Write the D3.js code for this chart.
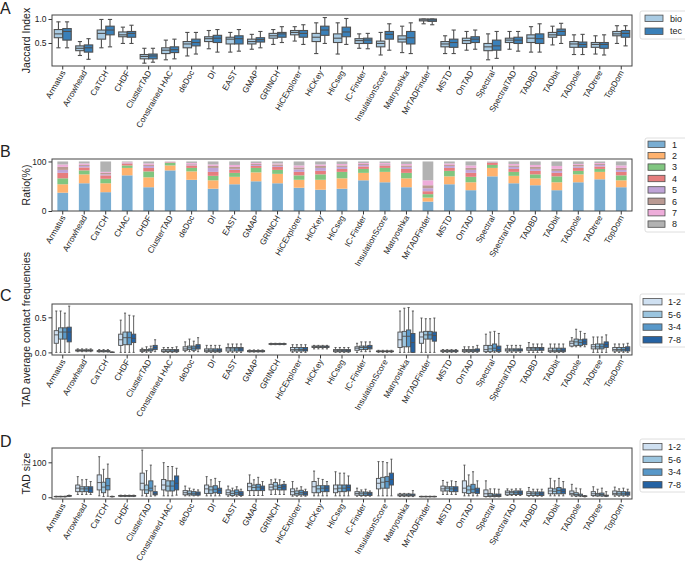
<!DOCTYPE html>
<html>
<head>
<meta charset="utf-8">
<script src="https://cdn.jsdelivr.net/npm/d3@7"></script>
<style>
  body { margin: 0; background: #fff; }
  svg text { font-family: "Liberation Sans", Arial, sans-serif; fill: #222; }
</style>
</head>
<body>
<div id="chart"></div>
<script>
var svgWidth = 685;
var svgHeight = 562;

// method names
var methodsA = ["Armatus","Arrowhead","CaTCH","CHDF","ClusterTAD","Constrained HAC","deDoc","DI","EAST","GMAP","GRINCH","HiCExplorer","HiCKey","HiCseg","IC-Finder","InsulationScore","Matryoshka","MrTADFinder","MSTD","OnTAD","Spectral","SpectralTAD","TADBD","TADbit","TADpole","TADtree","TopDom"];
var methodsB = ["Armatus","Arrowhead","CaTCH","CHAC","CHDF","ClusterTAD","deDoc","DI","EAST","GMAP","GRINCH","HiCExplorer","HiCKey","HiCseg","IC-Finder","InsulationScore","Matryoshka","MrTADFinder","MSTD","OnTAD","Spectral","SpectralTAD","TADBD","TADbit","TADpole","TADtree","TopDom"];

// A: Jaccard index, [low whisker, q1, median, q3, high whisker]
var jaccardBio = [[0.40,0.61,0.69,0.78,0.94],[0.24,0.34,0.39,0.44,0.53],[0.40,0.58,0.70,0.77,0.99],[0.49,0.63,0.67,0.73,0.83],[0.08,0.17,0.22,0.26,0.39],[0.15,0.28,0.35,0.40,0.56],[0.23,0.40,0.48,0.53,0.72],[0.38,0.53,0.59,0.63,0.76],[0.31,0.48,0.58,0.62,0.72],[0.37,0.48,0.53,0.58,0.68],[0.47,0.60,0.65,0.70,0.78],[0.54,0.67,0.72,0.76,0.84],[0.28,0.53,0.62,0.70,0.92],[0.27,0.51,0.60,0.69,0.92],[0.39,0.49,0.55,0.59,0.69],[0.25,0.42,0.49,0.54,0.72],[0.30,0.52,0.58,0.65,0.85],[0.90,0.96,0.98,1.00,1.00],[0.28,0.42,0.48,0.53,0.65],[0.35,0.49,0.55,0.60,0.74],[0.15,0.34,0.42,0.49,0.69],[0.37,0.51,0.56,0.60,0.74],[0.31,0.51,0.60,0.67,0.84],[0.46,0.62,0.67,0.72,0.85],[0.26,0.41,0.48,0.53,0.67],[0.27,0.41,0.47,0.51,0.65],[0.49,0.65,0.69,0.74,0.86]];
var jaccardTec = [[0.40,0.56,0.74,0.80,0.94],[0.16,0.31,0.40,0.46,0.59],[0.42,0.67,0.77,0.85,0.99],[0.49,0.62,0.70,0.74,0.87],[0.10,0.17,0.23,0.27,0.39],[0.17,0.30,0.36,0.42,0.58],[0.27,0.44,0.51,0.58,0.72],[0.31,0.51,0.60,0.66,0.78],[0.33,0.48,0.59,0.65,0.78],[0.40,0.52,0.57,0.61,0.74],[0.51,0.62,0.69,0.72,0.84],[0.47,0.62,0.70,0.76,0.88],[0.49,0.66,0.77,0.85,1.03],[0.47,0.63,0.73,0.83,1.01],[0.38,0.49,0.56,0.60,0.70],[0.35,0.58,0.68,0.74,0.90],[0.28,0.48,0.61,0.74,0.92],[0.88,0.95,0.98,1.00,1.00],[0.28,0.41,0.51,0.58,0.77],[0.37,0.51,0.58,0.63,0.77],[0.18,0.35,0.44,0.56,0.74],[0.33,0.49,0.56,0.62,0.74],[0.31,0.49,0.59,0.69,0.90],[0.49,0.66,0.74,0.79,0.91],[0.26,0.41,0.47,0.52,0.68],[0.25,0.39,0.47,0.51,0.67],[0.44,0.62,0.70,0.76,0.86]];

// B: ratio (%) per class 1..8
var ratio1 = [37,56,38,72,48,82,63,45,54,60,56,47,43,45,62,58,48,19,54,42,70,56,52,42,58,64,48];
var ratio2 = [17,18,18,15,20,10,17,17,15,18,19,16,20,21,15,21,18,8,16,16,17,15,14,16,16,15,14];
var ratio3 = [12,8,9,5,12,5,7,9,8,9,8,9,11,13,8,8,11,7,11,11,6,8,8,12,7,6,10];
var ratio4 = [11,6,7,4,7,1,5,8,6,4,6,7,7,6,5,5,8,6,6,8,4,6,7,7,6,5,7];
var ratio5 = [6,3,2,1,4,0.5,2,8,2,2,2,5,6,4,3,2,4,6,4,6,1,4,4,4,3,3,4];
var ratio6 = [6,2,3,1,2,0.5,1,4,4,2,3,4,4,3,2,1,3,6,2,4,1,3,4,4,3,2,4];
var ratio7 = [5,3,2,1,3,0.5,2,3,4,2,2,4,3,3,2,2,3,10,3,5,0.5,3,4,6,2,2,5];
var ratio8 = [6,4,21,1,4,0.5,3,6,7,3,4,8,6,5,3,3,5,38,4,8,0.5,5,7,9,5,3,8];
var ratioNames = ["1","2","3","4","5","6","7","8"];

// C: TAD average contact frequencies
var contact12 = [[0,0.13,0.25,0.31,0.59],[0.01,0.02,0.03,0.035,0.05],[0.005,0.01,0.02,0.025,0.04],[0,0.10,0.18,0.26,0.46],[0,0.015,0.025,0.04,0.06],[0,0.01,0.02,0.04,0.07],[0.01,0.03,0.05,0.08,0.15],[0,0.01,0.03,0.05,0.10],[0,0.02,0.05,0.07,0.12],[0.005,0.01,0.02,0.025,0.035],[0.11,0.115,0.12,0.125,0.13],[0,0.02,0.04,0.07,0.11],[0.05,0.07,0.08,0.09,0.10],[0,0.01,0.025,0.04,0.07],[0,0.03,0.06,0.08,0.13],[0,0.01,0.015,0.02,0.03],[0,0.07,0.18,0.29,0.59],[0,0.13,0.22,0.29,0.49],[0,0.01,0.02,0.03,0.04],[0,0.01,0.025,0.04,0.08],[0,0.01,0.04,0.10,0.26],[0,0.02,0.035,0.05,0.10],[0,0.03,0.05,0.07,0.14],[0,0.01,0.03,0.06,0.12],[0.08,0.09,0.13,0.16,0.21],[0,0.05,0.08,0.11,0.22],[0,0.02,0.04,0.07,0.12]];
var contact56 = [[0,0.19,0.29,0.35,0.59],[0.01,0.02,0.03,0.035,0.05],[0.005,0.01,0.02,0.025,0.04],[0,0.11,0.21,0.29,0.56],[0,0.02,0.03,0.04,0.08],[0,0.01,0.02,0.04,0.07],[0.01,0.04,0.065,0.09,0.19],[0,0.01,0.03,0.05,0.10],[0,0.02,0.05,0.07,0.12],[0.005,0.01,0.02,0.025,0.035],[0.11,0.115,0.12,0.125,0.13],[0,0.02,0.04,0.07,0.11],[0.05,0.07,0.08,0.09,0.10],[0,0.01,0.025,0.04,0.07],[0.01,0.04,0.07,0.09,0.15],[0,0.01,0.015,0.02,0.03],[0,0.08,0.23,0.30,0.63],[0,0.19,0.25,0.30,0.48],[0,0.01,0.02,0.03,0.04],[0,0.01,0.025,0.04,0.08],[0,0.01,0.05,0.10,0.29],[0,0.02,0.035,0.05,0.10],[0,0.03,0.05,0.07,0.12],[0,0.01,0.03,0.06,0.12],[0.08,0.10,0.15,0.19,0.33],[0,0.05,0.08,0.12,0.22],[0,0.02,0.04,0.07,0.12]];
var contact34 = [[0,0.19,0.29,0.35,0.56],[0.01,0.02,0.03,0.035,0.05],[0.005,0.01,0.02,0.025,0.04],[0,0.11,0.21,0.29,0.53],[0,0.02,0.035,0.05,0.09],[0,0.01,0.02,0.04,0.07],[0.01,0.03,0.06,0.09,0.16],[0,0.01,0.03,0.05,0.10],[0,0.02,0.05,0.07,0.12],[0.005,0.01,0.02,0.025,0.035],[0.11,0.115,0.12,0.125,0.13],[0,0.02,0.04,0.07,0.11],[0.05,0.07,0.08,0.09,0.10],[0,0.01,0.025,0.04,0.07],[0.01,0.04,0.07,0.09,0.15],[0,0.01,0.015,0.02,0.03],[0,0.08,0.23,0.32,0.64],[0,0.19,0.25,0.30,0.48],[0,0.01,0.02,0.03,0.04],[0,0.01,0.025,0.04,0.08],[0,0.02,0.06,0.12,0.30],[0,0.02,0.035,0.05,0.10],[0,0.03,0.05,0.07,0.12],[0,0.01,0.03,0.06,0.12],[0.08,0.10,0.14,0.18,0.30],[0,0.05,0.08,0.12,0.22],[0,0.02,0.04,0.07,0.12]];
var contact78 = [[0,0.15,0.29,0.36,0.66],[0.01,0.02,0.03,0.035,0.05],[0,0,0.002,0.004,0.005],[0,0.14,0.20,0.26,0.52],[0.01,0.04,0.07,0.10,0.18],[0,0.01,0.025,0.04,0.08],[0.01,0.05,0.08,0.11,0.21],[0,0.01,0.03,0.05,0.10],[0,0.02,0.05,0.07,0.12],[0.005,0.01,0.02,0.025,0.035],[0.11,0.115,0.12,0.125,0.13],[0,0.02,0.04,0.07,0.11],[0.05,0.07,0.08,0.09,0.10],[0,0.01,0.025,0.04,0.07],[0.01,0.05,0.07,0.10,0.15],[0,0.01,0.015,0.02,0.03],[0,0.0,0.14,0.27,0.59],[0,0.16,0.24,0.29,0.49],[0,0.01,0.02,0.03,0.04],[0,0.015,0.03,0.05,0.10],[0,0.01,0.04,0.09,0.27],[0,0.02,0.035,0.05,0.10],[0,0.03,0.05,0.07,0.12],[0,0.01,0.03,0.06,0.12],[0.08,0.11,0.15,0.19,0.27],[0,0.07,0.11,0.15,0.25],[0,0.02,0.05,0.08,0.13]];

// D: TAD size
var size12 = [[1,1.5,2,2.5,3],[8,16,26,35,59],[4,21,42,64,116],[2,3,4,5,6],[4,21,40,69,135],[4,21,35,51,99],[4,7,13,19,32],[4,11,24,35,59],[3,7,13,21,32],[5,19,30,40,64],[8,21,29,37,50],[3,7,16,24,45],[4,13,30,45,75],[4,13,24,35,73],[3,6,11,16,26],[4,24,40,54,102],[2,4,6,9,11],[1,1.5,2,2.5,3],[8,18,24,32,48],[4,13,26,47,92],[1,2,10,21,47],[5,7,13,18,24],[3,5,11,16,28],[4,10,18,26,54],[3,7,11,18,37],[3,5,10,16,30],[3,7,11,18,29]];
var size56 = [[1,1.5,2,2.5,3],[8,16,24,30,50],[2,13,29,43,80],[2,3,4,5,6],[3,11,21,35,76],[4,18,32,47,88],[4,7,11,18,26],[4,11,21,30,50],[3,5,11,18,26],[5,19,28,35,50],[8,23,32,42,52],[3,6,11,18,26],[4,13,24,33,54],[4,16,26,35,69],[3,5,10,15,21],[4,26,43,57,102],[2,4,6,9,11],[1,1.5,2,2.5,3],[8,18,26,30,43],[4,11,21,32,64],[1,2,6,11,24],[5,8,13,17,23],[3,5,10,15,23],[4,10,17,24,47],[2,4,8,13,26],[3,4,7,11,23],[3,6,10,16,24]];
var size34 = [[1,1.5,2,2.5,3],[8,16,24,30,51],[3,21,33,54,95],[2,3,4,5,6],[3,18,26,47,92],[4,18,32,47,88],[4,6,10,16,23],[4,13,23,33,54],[3,7,13,21,30],[5,19,29,37,57],[8,21,28,35,50],[3,7,13,20,30],[4,16,26,33,51],[4,16,26,35,69],[3,5,10,15,23],[4,26,45,59,99],[2,4,6,9,11],[1,1.5,2,2.5,3],[8,16,24,30,47],[4,13,23,37,73],[1,2,5,9,24],[5,8,13,18,24],[3,5,10,15,23],[4,10,19,28,54],[2,4,6,9,24],[3,4,8,12,26],[3,6,10,16,26]];
var size78 = [[2,3,4,5,6],[8,14,24,30,45],[1,1.5,2,2.5,3],[2,3,4,5,6],[4,7,10,16,32],[6,21,40,61,83],[4,6,10,15,21],[4,11,19,26,45],[3,5,10,16,23],[5,19,26,32,45],[8,21,30,37,45],[3,6,11,16,23],[4,16,26,33,45],[4,18,28,35,61],[3,5,10,14,18],[4,35,51,69,109],[2,4,6,9,19],[1,1.5,2,2.5,3],[8,16,24,30,45],[4,11,18,26,47],[1,2,5,9,23],[5,8,13,18,24],[3,5,10,15,23],[4,10,17,24,45],[1,2,3,4,5],[2,3,5,6,16],[3,6,10,15,23]];

var hueNames = ["1-2","5-6","3-4","7-8"];

var left = 52, right = 632;
var lineGray = "#4f4f4f";
var blues2 = ["#a9cbe3", "#3a80b9"];
var blues4 = ["#cfe0f1", "#9bc5df", "#5898c9", "#2462a3"];
var tab = ["#79add2","#ffb26e","#80c680","#e67d7e","#bfa4d7","#ba9a93","#eeadda","#b2b2b2"];

var svg = d3.select("#chart").append("svg")
    .attr("width", svgWidth)
    .attr("height", svgHeight);

function xBand(names) {
    return d3.scaleBand().domain(names).range([left, right]).padding(0);
}

function frame(top, bottom, yScale, ticks, fmt, title, letter, letterY, xScale) {
    var g = svg.append("g");
    // y axis
    var yAxis = d3.axisLeft(yScale).tickValues(ticks).tickFormat(fmt).tickSize(3.5).tickPadding(2);
    var ya = g.append("g").attr("transform", `translate(${left},0)`).call(yAxis);
    ya.select(".domain").remove();
    ya.selectAll("line").attr("stroke", "#333");
    ya.selectAll("text").style("font-size", "8.5px").attr("fill", "#222");
    // x axis
    var xAxis = d3.axisBottom(xScale).tickSize(3.5).tickFormat("");
    var xa = g.append("g").attr("transform", `translate(0,${bottom})`).call(xAxis);
    xa.select(".domain").remove();
    xa.selectAll("line").attr("stroke", "#333");
    g.selectAll(".xlab")
        .data(xScale.domain())
        .enter()
        .append("text")
        .attr("text-anchor", "end")
        .attr("transform", d => `translate(${xScale(d) + xScale.bandwidth() / 2 + 3},${bottom + 6.5}) rotate(-60)`)
        .style("font-size", "8.3px")
        .text(d => d);
    // title + letter
    svg.append("text")
        .attr("transform", `translate(30,${(top + bottom) / 2}) rotate(-90)`)
        .attr("text-anchor", "middle")
        .style("font-size", "10.5px")
        .text(title);
    svg.append("text")
        .attr("x", 0).attr("y", letterY)
        .style("font-size", "16px")
        .text(letter);
    return g;
}

function spines(top, bottom) {
    svg.append("rect")
        .attr("x", left).attr("y", top)
        .attr("width", right - left).attr("height", bottom - top)
        .attr("fill", "none").attr("stroke", "#444").attr("stroke-width", 1);
}

function boxes(series, colors, xScale, yScale, lw) {
    var n = series.length;
    var bw = xScale.bandwidth();
    var slot = 0.8 * bw / n;
    var w = slot * 0.98;
    var g = svg.append("g");
    series.forEach(function(data, i) {
        data.forEach(function(d, j) {
            var cx = xScale(xScale.domain()[j]) + bw / 2 + (i - (n - 1) / 2) * slot;
            var bg = g.append("g").attr("stroke", lineGray).attr("stroke-width", lw).attr("fill", "none");
            // whiskers
            bg.append("line").attr("x1", cx).attr("x2", cx).attr("y1", yScale(d[0])).attr("y2", yScale(d[1]));
            bg.append("line").attr("x1", cx).attr("x2", cx).attr("y1", yScale(d[3])).attr("y2", yScale(d[4]));
            bg.append("line").attr("x1", cx - w / 4).attr("x2", cx + w / 4).attr("y1", yScale(d[0])).attr("y2", yScale(d[0]));
            bg.append("line").attr("x1", cx - w / 4).attr("x2", cx + w / 4).attr("y1", yScale(d[4])).attr("y2", yScale(d[4]));
            bg.append("rect")
                .attr("x", cx - w / 2).attr("width", w)
                .attr("y", yScale(d[3])).attr("height", Math.max(0.01, yScale(d[1]) - yScale(d[3])))
                .attr("fill", colors[i]);
            bg.append("line").attr("x1", cx - w / 2).attr("x2", cx + w / 2).attr("y1", yScale(d[2])).attr("y2", yScale(d[2]));
        });
    });
}

function legend(x, y, w, h, names, colors, rowY, rowStep, patchX, patchW, textX) {
    var g = svg.append("g");
    g.append("rect").attr("x", x).attr("y", y).attr("width", w).attr("height", h)
        .attr("rx", 2).attr("fill", "#fff").attr("stroke", "#d6d6d6").attr("stroke-width", 0.8);
    names.forEach(function(name, i) {
        var cy = rowY + i * rowStep;
        g.append("rect").attr("x", patchX).attr("y", cy - 3.2).attr("width", patchW).attr("height", 6.4)
            .attr("fill", colors[i]).attr("stroke", lineGray).attr("stroke-width", 0.8);
        g.append("text").attr("x", textX).attr("y", cy + 3.2).style("font-size", "9px").text(name);
    });
}

// ---------- Panel A ----------
var xA = xBand(methodsA);
var yA = d3.scaleLinear().domain([0.021, 1.083]).range([66, 15]);
frame(15, 66, yA, [0.5, 1.0], d3.format(".1f"), "Jaccard Index", "A", 14, xA);
boxes([jaccardBio, jaccardTec], blues2, xA, yA, 1.1);
spines(15, 66);
legend(640, 11, 52, 28, ["bio", "tec"], blues2, 18.3, 12.9, 645, 18, 670);

// ---------- Panel B ----------
var xB = xBand(methodsB);
var yB = d3.scaleLinear().domain([0, 105]).range([211, 159]);
frame(159, 211, yB, [0, 100], d3.format("d"), "Ratio(%)", "B", 157, xB);
var ratios = [ratio1, ratio2, ratio3, ratio4, ratio5, ratio6, ratio7, ratio8];
var stackRows = methodsB.map(function(m, j) {
    var row = { method: m };
    ratioNames.forEach(function(k, i) { row[k] = ratios[i][j]; });
    return row;
});
var stacked = d3.stack().keys(ratioNames)(stackRows);
svg.append("g").selectAll("g")
    .data(stacked)
    .enter()
    .append("g")
    .attr("fill", (d, i) => tab[i])
    .selectAll("rect")
    .data(d => d)
    .enter()
    .append("rect")
    .attr("x", d => xB(d.data.method) + xB.bandwidth() * 0.25)
    .attr("width", xB.bandwidth() * 0.5)
    .attr("y", d => yB(d[1]))
    .attr("height", d => yB(d[0]) - yB(d[1]));
spines(159, 211);
legend(645, 138, 45, 94, ratioNames, tab, 144.3, 11.4, 648, 17, 672);

// ---------- Panel C ----------
var yC = d3.scaleLinear().domain([-0.037, 0.69]).range([355, 304]);
frame(304, 355, yC, [0.0, 0.5], d3.format(".1f"), "TAD average contact frequencies", "C", 301, xA);
boxes([contact12, contact56, contact34, contact78], blues4, xA, yC, 0.9);
spines(304, 355);
legend(640, 294, 50, 53, hueNames, blues4, 301.7, 12.7, 643, 19, 668);

// ---------- Panel D ----------
var yD = d3.scaleLinear().domain([-5, 141]).range([499, 448]);
frame(448, 499, yD, [0, 100], d3.format("d"), "TAD size", "D", 447, xA);
boxes([size12, size56, size34, size78], blues4, xA, yD, 0.9);
spines(448, 499);
legend(640, 439, 50, 53, hueNames, blues4, 446.7, 12.7, 643, 19, 668);
</script>
</body>
</html>
